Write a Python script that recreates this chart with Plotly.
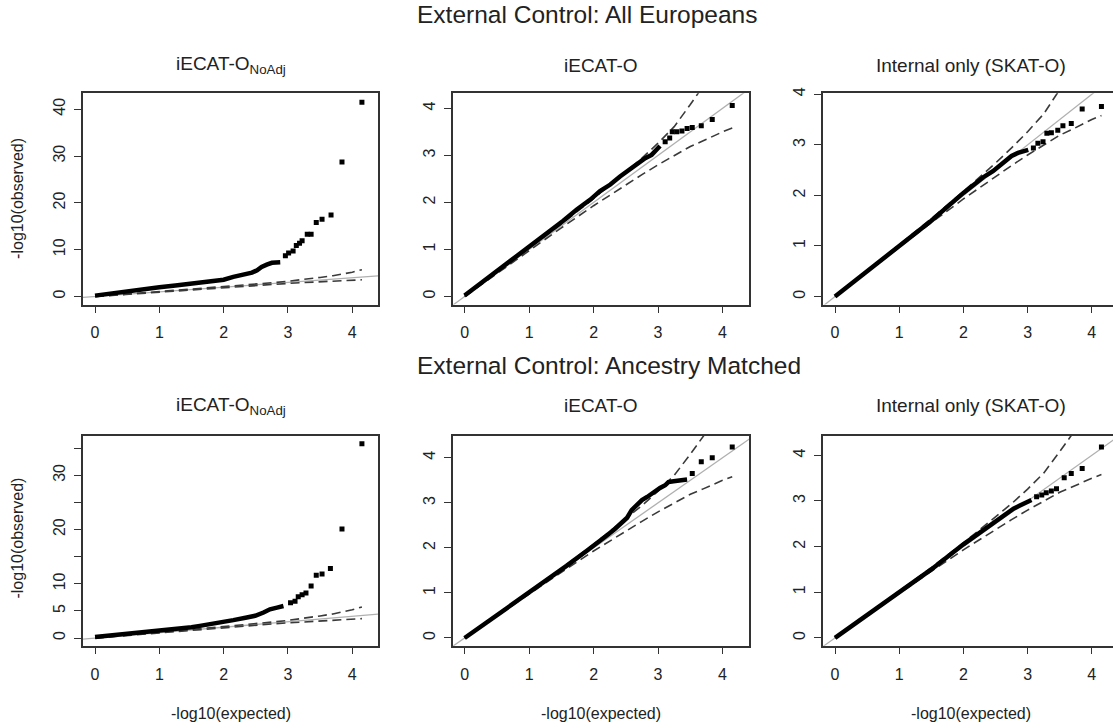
import plotly.graph_objects as go

W, H = 1113, 724

# ---------------- data ----------------
# 95% confidence band (dashed) and diagonal reference (grey)
CI_X = [0.0, 0.5, 1.0, 1.5, 2.0, 2.5, 2.75, 3.0, 3.25, 3.5, 3.7, 3.85, 4.0, 4.15]
CI_UPPER = [0.0, 0.51, 1.02, 1.54, 2.08, 2.64, 2.94, 3.26, 3.61, 4.08, 4.45, 4.77, 5.2, 5.74]
CI_LOWER = [0.0, 0.49, 0.98, 1.46, 1.93, 2.38, 2.59, 2.80, 2.99, 3.19, 3.31, 3.41, 3.5, 3.58]
DIAG = [-1.0, 6.0]

# Top-left: iECAT-O NoAdj, All Europeans
TL_X = [0.0, 0.25, 0.5, 0.75, 1.0, 1.25, 1.5, 1.75, 2.0, 2.15, 2.31, 2.44, 2.52, 2.59, 2.67, 2.75, 2.88]
TL_Y = [0.2, 0.7, 1.2, 1.6, 2.0, 2.35, 2.7, 3.1, 3.6, 4.2, 4.7, 5.1, 5.6, 6.3, 6.8, 7.2, 7.3]
TL_TAIL_X = [2.96, 3.01, 3.08, 3.13, 3.18, 3.22, 3.30, 3.36, 3.44, 3.53, 3.67, 3.84, 4.15]
TL_TAIL_Y = [8.7, 9.3, 9.7, 10.9, 11.4, 11.9, 13.3, 13.3, 15.8, 16.5, 17.4, 28.7, 41.5]

# Top-middle: iECAT-O, All Europeans
TM_X = [0.0, 0.5, 1.0, 1.53, 1.74, 1.95, 2.10, 2.26, 2.41, 2.57, 2.70, 2.80, 2.90, 2.98, 3.03]
TM_Y = [0.02, 0.53, 1.06, 1.61, 1.85, 2.06, 2.24, 2.38, 2.55, 2.71, 2.85, 2.94, 3.01, 3.13, 3.20]
TM_TAIL_X = [3.11, 3.18, 3.22, 3.29, 3.37, 3.45, 3.53, 3.67, 3.84, 4.15]
TM_TAIL_Y = [3.29, 3.37, 3.50, 3.50, 3.52, 3.57, 3.59, 3.63, 3.76, 4.06]

# Top-right: Internal only (SKAT-O), All Europeans
TR_X = [0.0, 0.5, 1.0, 1.5, 2.0, 2.15, 2.31, 2.46, 2.62, 2.75, 2.85, 2.93, 3.01]
TR_Y = [0.0, 0.5, 1.0, 1.5, 2.05, 2.20, 2.36, 2.48, 2.64, 2.78, 2.84, 2.87, 2.90]
TR_TAIL_X = [3.09, 3.16, 3.24, 3.30, 3.37, 3.47, 3.55, 3.68, 3.85, 4.15]
TR_TAIL_Y = [2.94, 3.03, 3.06, 3.23, 3.24, 3.29, 3.38, 3.42, 3.71, 3.76]

# Bottom-left: iECAT-O NoAdj, Ancestry Matched
BL_X = [0.0, 0.5, 1.0, 1.5, 1.63, 1.89, 2.0, 2.15, 2.36, 2.49, 2.62, 2.72, 2.83, 2.93]
BL_Y = [0.2, 0.75, 1.35, 2.0, 2.25, 2.7, 2.9, 3.3, 3.8, 4.1, 4.7, 5.3, 5.6, 5.9]
BL_TAIL_X = [3.04, 3.11, 3.16, 3.22, 3.28, 3.36, 3.44, 3.53, 3.66, 3.84, 4.15]
BL_TAIL_Y = [6.5, 6.8, 7.6, 8.0, 8.3, 9.6, 11.6, 11.8, 12.8, 20.1, 35.8]

# Bottom-middle: iECAT-O, Ancestry Matched
BM_X = [0.0, 0.5, 1.0, 1.58, 1.89, 2.05, 2.20, 2.33, 2.44, 2.52, 2.59, 2.67, 2.75, 2.83,
        2.90, 2.98, 3.03, 3.11, 3.16, 3.24, 3.34, 3.45]
BM_Y = [0.0, 0.5, 1.0, 1.6, 1.93, 2.12, 2.27, 2.42, 2.55, 2.67, 2.84, 2.95, 3.06, 3.13,
        3.21, 3.28, 3.33, 3.39, 3.46, 3.48, 3.50, 3.52]
BM_TAIL_X = [3.53, 3.67, 3.84, 4.15]
BM_TAIL_Y = [3.65, 3.91, 4.00, 4.24]

# Bottom-right: Internal only (SKAT-O), Ancestry Matched
BR_X = [0.0, 0.5, 1.0, 1.5, 2.0, 2.10, 2.26, 2.39, 2.52, 2.65, 2.78, 2.88, 2.98, 3.06]
BR_Y = [0.0, 0.5, 1.0, 1.5, 2.05, 2.15, 2.30, 2.45, 2.58, 2.71, 2.83, 2.90, 2.96, 3.02]
BR_TAIL_X = [3.14, 3.22, 3.29, 3.37, 3.45, 3.57, 3.68, 3.85, 4.15]
BR_TAIL_Y = [3.09, 3.13, 3.18, 3.22, 3.27, 3.51, 3.60, 3.71, 4.18]

X_TICKS = [0, 1, 2, 3, 4]
Y_TICKS_TL = [0, 10, 20, 30, 40]
Y_TICKS_BL = [0, 5, 10, 15, 20, 25, 30, 35]
Y_TICKTEXT_BL = ["0", "5", "10", "", "20", "", "30", ""]
Y_TICKS_SMALL = [0, 1, 2, 3, 4]

MAIN_TITLES = ["External Control: All Europeans", "External Control: Ancestry Matched"]
SUB_TITLES = ["iECAT-O<sub>NoAdj</sub>", "iECAT-O", "Internal only (SKAT-O)"]
X_LABEL = "-log10(expected)"
Y_LABEL = "-log10(observed)"

# ---------------- layout geometry (pixels) ----------------
FONT = "Liberation Sans, Arial, Helvetica, sans-serif"
INK = "#222222"
BOX = "#333333"

col_px = [(83, 378), (453, 749), (823, 1113)]
row_px = [(88, 301), (433.3, 645)]
x_ranges = [[-0.187, 4.40], [-0.18, 4.41], [-0.187, 4.33]]
y_ranges = [[[-1.7, 43.4], [-0.17, 4.32], [-0.157, 4.02]],
            [[-1.4, 37.3], [-0.17, 4.49], [-0.17, 4.43]]]

panels = [
    [(TL_X, TL_Y, TL_TAIL_X, TL_TAIL_Y), (TM_X, TM_Y, TM_TAIL_X, TM_TAIL_Y), (TR_X, TR_Y, TR_TAIL_X, TR_TAIL_Y)],
    [(BL_X, BL_Y, BL_TAIL_X, BL_TAIL_Y), (BM_X, BM_Y, BM_TAIL_X, BM_TAIL_Y), (BR_X, BR_Y, BR_TAIL_X, BR_TAIL_Y)],
]

fig = go.Figure()
layout = {}
annotations = []

for r in range(2):
    for c in range(3):
        k = r * 3 + c + 1
        xa = "x" if k == 1 else f"x{k}"
        ya = "y" if k == 1 else f"y{k}"
        xkey = "xaxis" if k == 1 else f"xaxis{k}"
        ykey = "yaxis" if k == 1 else f"yaxis{k}"
        x0, x1 = col_px[c]
        t0, t1 = row_px[r]

        if c == 0:
            if r == 0:
                yt, ytt = Y_TICKS_TL, [str(v) for v in Y_TICKS_TL]
            else:
                yt, ytt = Y_TICKS_BL, Y_TICKTEXT_BL
        else:
            yt, ytt = Y_TICKS_SMALL, [str(v) for v in Y_TICKS_SMALL]

        layout[xkey] = dict(
            domain=[x0 / W, min(x1 / W, 1.0)], anchor=ya, range=x_ranges[c],
            tickvals=X_TICKS, ticktext=[str(v) for v in X_TICKS],
            ticks="outside", ticklen=7, tickwidth=1.2, tickcolor=BOX,
            showline=True, linecolor=BOX, linewidth=1.5, mirror=True,
            showgrid=False, zeroline=False, ticklabelstandoff=6,
            tickfont=dict(family=FONT, size=16, color=INK),
        )
        layout[ykey] = dict(
            domain=[1 - t1 / H, 1 - t0 / H], anchor=xa, range=y_ranges[r][c],
            tickvals=yt, ticktext=ytt, tickangle=-90,
            ticks="outside", ticklen=7, tickwidth=1.2, tickcolor=BOX,
            showline=True, linecolor=BOX, linewidth=1.5, mirror=(c != 2),
            showgrid=False, zeroline=False, ticklabelstandoff=3,
            tickfont=dict(family=FONT, size=16, color=INK),
        )

        dx, dy, tx, ty = panels[r][c]
        # diagonal reference
        fig.add_trace(go.Scatter(x=DIAG, y=DIAG, mode="lines", xaxis=xa, yaxis=ya,
                                 line=dict(color="#b0b0b0", width=1.3), showlegend=False,
                                 hoverinfo="skip"))
        # confidence band
        for band in (CI_UPPER, CI_LOWER):
            fig.add_trace(go.Scatter(x=CI_X, y=band, mode="lines", xaxis=xa, yaxis=ya,
                                     line=dict(color="#3a3a3a", width=1.6, dash="9px,5px"),
                                     showlegend=False, hoverinfo="skip"))
        # dense part of the observed points
        fig.add_trace(go.Scatter(x=dx, y=dy, mode="lines", xaxis=xa, yaxis=ya,
                                 line=dict(color="black", width=4.5), showlegend=False))
        # sparse tail points
        fig.add_trace(go.Scatter(x=tx, y=ty, mode="markers", xaxis=xa, yaxis=ya,
                                 marker=dict(symbol="square", size=5, color="black",
                                             line=dict(width=0)),
                                 showlegend=False))

        # subtitle
        cx = (x0 + (x1 if c != 2 else 1118)) / 2
        sub_y = 59.5 if r == 0 else 403
        annotations.append(dict(text=SUB_TITLES[c], x=cx / W, y=1 - sub_y / H,
                                xref="paper", yref="paper", xanchor="center", yanchor="middle",
                                showarrow=False, font=dict(family=FONT, size=19, color=INK)))
        if r == 1:
            annotations.append(dict(text=X_LABEL, x=cx / W, y=1 - 713.5 / H,
                                    xref="paper", yref="paper", xanchor="center", yanchor="middle",
                                    showarrow=False, font=dict(family=FONT, size=16, color=INK)))

for r, ty in enumerate([9, 362]):
    annotations.append(dict(text=MAIN_TITLES[r], x=415 / W, y=1 - ty / H,
                            xref="paper", yref="paper", xanchor="left", yanchor="middle",
                            showarrow=False, font=dict(family=FONT, size=24.5, color=INK)))
for yc in (194.5, 537):
    annotations.append(dict(text=Y_LABEL, x=18 / W, y=1 - yc / H, textangle=-90,
                            xref="paper", yref="paper", xanchor="center", yanchor="middle",
                            showarrow=False, font=dict(family=FONT, size=16, color=INK)))

fig.update_layout(
    width=W, height=H, margin=dict(l=0, r=0, t=0, b=0),
    paper_bgcolor="white", plot_bgcolor="white",
    annotations=annotations, showlegend=False, **layout,
)

fig.write_html(
    "out.html",
    config={"displayModeBar": False},
    post_script="document.body.style.margin='0px';document.body.style.overflow='hidden';",
)
